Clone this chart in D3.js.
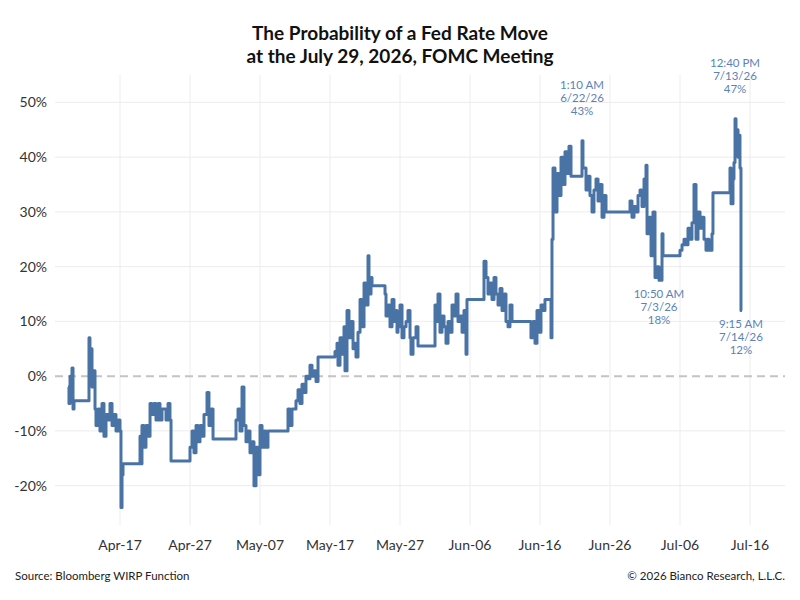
<!DOCTYPE html>
<html><head><meta charset="utf-8">
<script src="https://cdn.jsdelivr.net/npm/d3@7"></script>
<style>body{margin:0;background:#fff}text{font-family:Lato,"Open Sans",sans-serif}</style>
</head><body><svg id="c" width="800" height="600"></svg>
<script>
// days since Apr 9 2026, probability in %
const days = [0.57,0.71,0.86,1.0,1.14,1.29,1.43,3.57,3.71,3.86,4.0,4.14,4.43,4.57,4.86,5.14,5.43,5.71,6.0,6.29,6.57,6.86,7.14,7.43,7.71,8.0,8.14,8.29,8.43,10.86,11.0,11.14,11.43,11.71,12.0,12.29,12.57,12.86,13.14,13.43,13.71,14.0,14.57,14.86,15.14,15.29,18.0,18.29,18.57,18.86,19.14,19.43,19.71,20.0,20.43,20.71,21.0,21.29,24.57,24.86,25.14,25.43,25.71,26.0,26.29,26.57,26.86,27.14,27.43,27.71,28.0,28.29,28.57,28.86,29.14,32.0,32.29,32.57,33.14,33.43,33.71,34.0,34.29,34.57,34.86,35.14,35.43,35.71,36.0,36.29,38.71,39.0,39.14,39.43,39.71,40.0,40.14,40.43,40.71,41.0,41.29,41.57,41.71,42.0,42.29,42.57,42.86,43.14,43.43,43.57,43.86,44.0,45.86,46.0,46.29,46.57,46.86,47.14,47.43,47.57,47.71,48.0,48.29,48.57,48.86,49.14,49.43,49.57,49.86,50.29,50.57,53.0,53.29,53.43,53.71,54.0,54.29,54.57,54.86,55.14,55.43,55.71,56.0,56.29,56.57,56.86,57.14,57.43,57.57,60.0,60.29,60.57,60.86,61.14,61.43,61.71,62.0,62.29,62.57,62.86,63.14,63.43,63.71,64.0,66.71,67.0,67.29,67.57,67.86,68.14,68.43,68.71,69.0,69.29,69.57,69.71,69.86,70.14,70.43,70.71,71.0,71.29,71.57,71.86,72.14,72.43,74.0,74.14,74.29,74.57,74.86,75.14,75.43,75.71,76.0,76.29,76.57,76.86,77.14,77.43,80.86,81.14,81.43,81.71,82.0,82.29,82.57,82.86,83.14,83.29,83.57,83.86,84.14,84.43,84.71,85.0,85.43,85.57,88.0,88.29,88.57,88.86,89.14,89.43,89.71,90.0,90.29,90.57,90.86,91.14,91.43,91.71,91.86,92.14,92.57,92.71,95.14,95.29,95.57,95.71,95.86,96.0,96.14,96.29,96.43,96.57,96.71,96.86];
const values = [-2,-5,0,-3,1.5,-6,-4.5,7,2,5,-2,1,-6,-9,-6,-10,-5,-11,-7,-8,-5,-9,-7,-10,-8,-10,-24,-18,-16,-11,-16,-9,-13,-9,-11,-5,-7,-5,-8,-5,-8,-6,-8,-5,-8,-15.5,-13,-10,-14,-9,-12,-9,-11,-7,-3,-9,-6,-11.5,-8,-6,-10,-2,-9,-12,-10,-14,-12,-20,-13,-18,-9,-13,-10,-13,-10,-6,-9,-6,-4.5,-2.5,-5,-1.5,-3,0,-0.5,2,0,1,-1,3.5,4.5,6,2,7,4,9,1,12,7,10,5,6,3.5,8,14,9,17,13,22,15,18,16.5,15,11,13,9,14,10,12,8,9,13,7,9,10,12,7,4,7,9,5.5,13,10,15,8,11,9,6,10,8,13,11,15,10,11,8,12,4,14,21,18,15,17,14,18,15,13,16,12,15,10,9,13,10,7,10,6,12,8,13,12,14,14,14,7,25,38,30,37,33,40,35,41,37,42,36.5,43,38,38,34,36.5,33,30,34,36,32,35,29,33,30,32,29,31,30,33,34,31,36,38.5,26,29,22,30,18,20,17.5,26,22,23,24,25,24,27,25,28,35,25,30,27,29,25,23,25,23,26,33.5,38,31.5,36,39,47,42,45,40,44,38,12,12];
const yTicks = [-20,-10,0,10,20,30,40,50];
const xTickDates = ["2026-04-17","2026-04-27","2026-05-07","2026-05-17","2026-05-27","2026-06-06","2026-06-16","2026-06-26","2026-07-06","2026-07-16"];
const notes = [
  {day:74.0, v:43, lines:["1:10 AM","6/22/26","43%"], above:true},
  {day:95.86, v:47, lines:["12:40 PM","7/13/26","47%"], above:true},
  {day:85.0, v:17.5, lines:["10:50 AM","7/3/26","18%"], above:false},
  {day:96.71, v:12, lines:["9:15 AM","7/14/26","12%"], above:false}
];

const svg = d3.select("#c");
const DAY = 864e5;
const start = new Date(2026,3,9);
const toDate = d => new Date(start.getTime() + d*DAY);
const data = days.map((d,i) => ({t: toDate(d), v: values[i]}));

const left = 55, right = 785;
const x = d3.scaleTime()
  .domain([new Date(2026,3,17).getTime() - (120-left)/7*DAY, new Date(2026,3,17).getTime() + (right-120)/7*DAY])
  .range([left, right]);
const y = d3.scaleLinear().domain([-25,55]).range([513, 75]);

const parse = d3.timeParse("%Y-%m-%d");
const xt = xTickDates.map(parse);

// grid
svg.append("g").selectAll("line").data(yTicks.filter(d=>d!==0)).join("line")
  .attr("x1", left).attr("x2", right).attr("y1", d=>y(d)).attr("y2", d=>y(d))
  .attr("stroke", "#ececec");
svg.append("g").selectAll("line").data(xt).join("line")
  .attr("x1", d=>x(d)).attr("x2", d=>x(d)).attr("y1", 75).attr("y2", 525)
  .attr("stroke", "#ececec");
svg.append("line").attr("x1", left).attr("x2", right).attr("y1", y(0)).attr("y2", y(0))
  .attr("stroke", "#c4c4c4").attr("stroke-width", 2).attr("stroke-dasharray", "8,5");

// axes
svg.append("g").selectAll("text").data(yTicks).join("text")
  .attr("x", 47).attr("y", d=>y(d)).attr("dy", "0.35em").attr("text-anchor", "end")
  .attr("font-size", 14).attr("fill", "#333").text(d=>d+"%");
svg.append("g").selectAll("text").data(xt).join("text")
  .attr("x", d=>x(d)).attr("y", 550).attr("text-anchor", "middle")
  .attr("font-size", 14).attr("fill", "#333").text(d3.timeFormat("%b-%d"));

// line
svg.append("path").datum(data)
  .attr("d", d3.line().x(d=>x(d.t)).y(d=>y(d.v)).curve(d3.curveStepAfter))
  .attr("fill", "none").attr("stroke", "#4a73a5").attr("stroke-width", 3).attr("stroke-linejoin", "round");

// annotations
notes.forEach(n => {
  const cx = x(toDate(n.day));
  const base = n.above ? y(n.v) - 52 : y(n.v) + 18;
  const t = svg.append("text").attr("text-anchor", "middle").attr("font-size", 11.5).attr("fill", "#5b82b8");
  n.lines.forEach((l,i) => t.append("tspan").attr("x", cx).attr("y", base + i*13).text(l));
});

// title & footer
svg.append("text").attr("x", 400).attr("y", 40).attr("text-anchor", "middle")
  .attr("font-size", 19).attr("font-weight", "bold").attr("fill", "#111").text("The Probability of a Fed Rate Move");
svg.append("text").attr("x", 400).attr("y", 63).attr("text-anchor", "middle")
  .attr("font-size", 19).attr("font-weight", "bold").attr("fill", "#111").text("at the July 29, 2026, FOMC Meeting");
svg.append("text").attr("x", 15).attr("y", 580).attr("font-size", 11.5).attr("fill", "#222").text("Source: Bloomberg WIRP Function");
svg.append("text").attr("x", 785).attr("y", 580).attr("text-anchor", "end").attr("font-size", 11.5).attr("fill", "#222").text("© 2026 Bianco Research, L.L.C.");
</script></body></html>
